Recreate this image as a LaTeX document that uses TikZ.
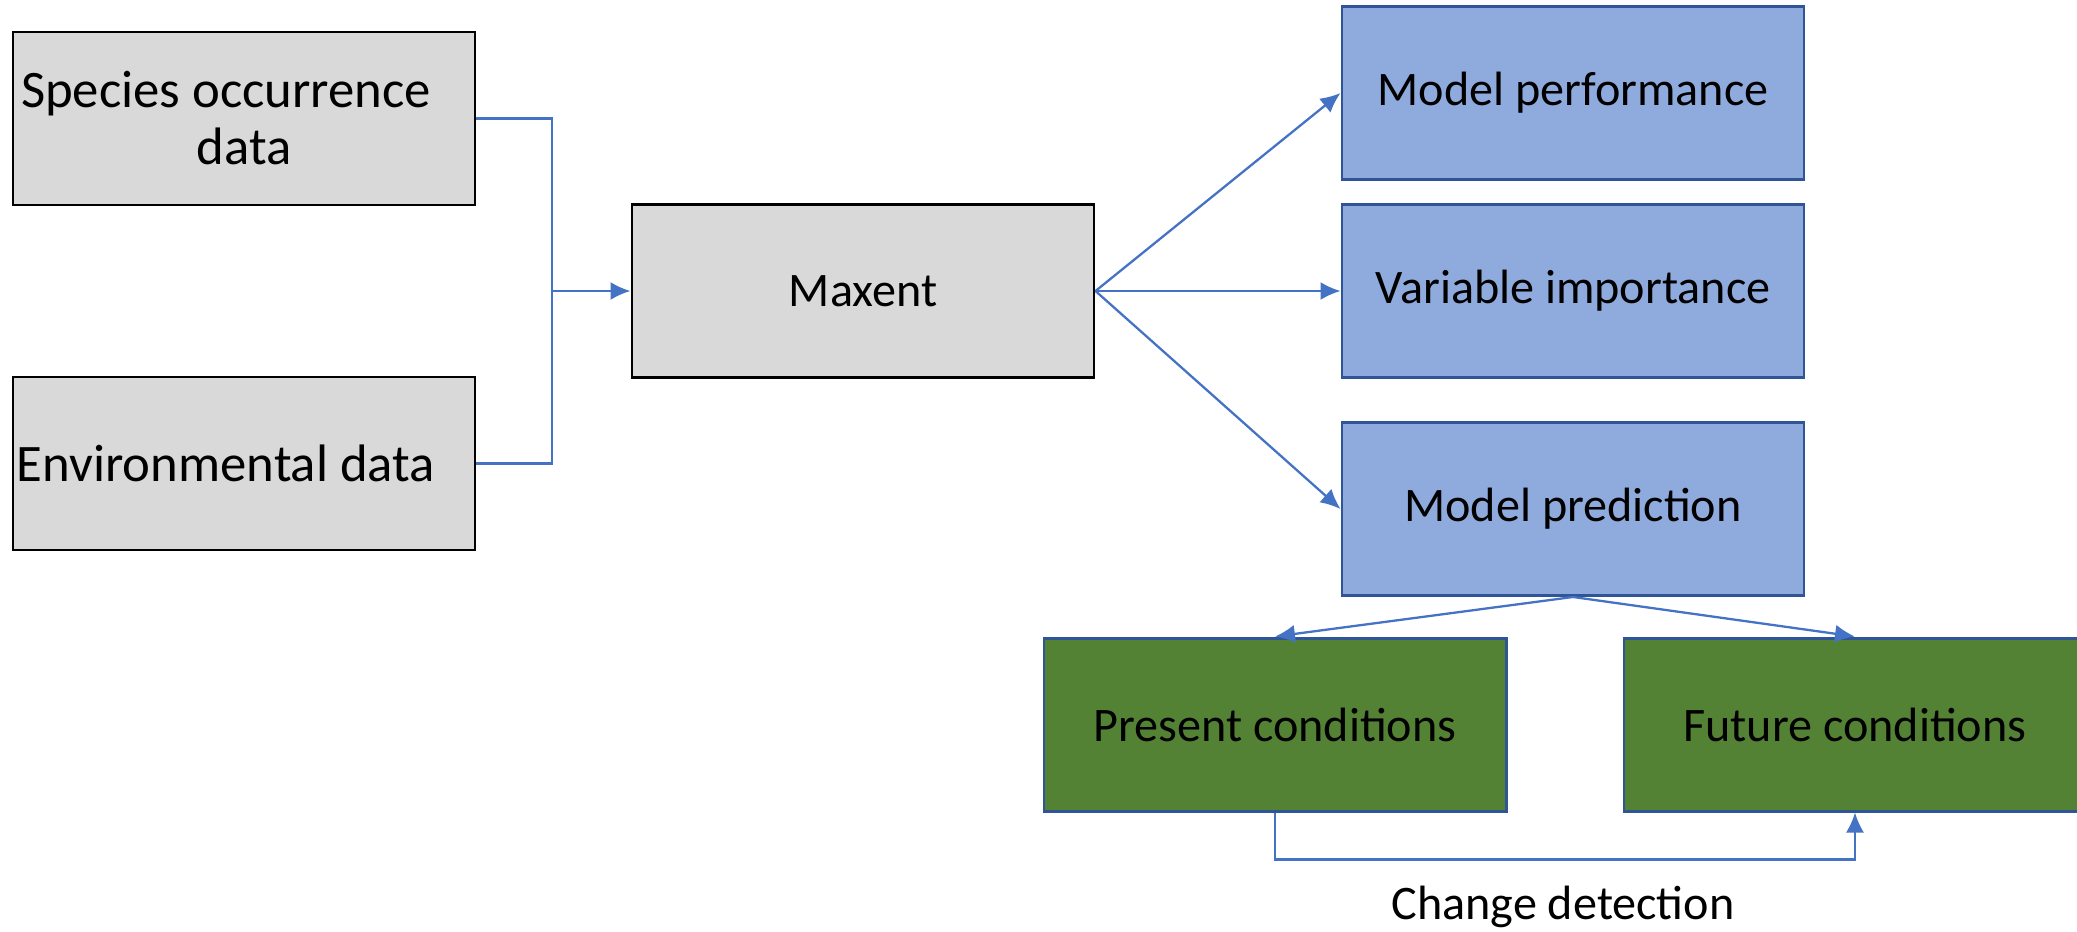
\documentclass[tikz,border=0pt]{standalone}
\usepackage{fontspec}
\setmainfont{Carlito}
\usepackage{xcolor}
\usetikzlibrary{arrows.meta,positioning,calc}

\definecolor{ingray}{HTML}{D9D9D9}
\definecolor{outblue}{HTML}{8FAADC}
\definecolor{mapgreen}{HTML}{548235}
\definecolor{edgeblue}{HTML}{2F5597}
\definecolor{linkblue}{HTML}{4472C4}

% pad a line on the right so it sits a little left of centre
\newcommand{\padr}{\hspace*{0.36cm}}

\begin{document}
\begin{tikzpicture}[
  >={Latex[length=2mm,width=1.8mm]},
  box/.style={draw, minimum width=4.62cm, minimum height=1.73cm, line width=0.85pt, align=center, inner sep=0pt, font=\fontsize{13.7}{16.2}\selectfont},
  inbox/.style={box, fill=ingray, draw=black},
  srcbox/.style={inbox, font=\fontsize{15}{16.2}\selectfont},
  outbox/.style={box, fill=outblue, draw=edgeblue},
  mapbox/.style={box, fill=mapgreen, draw=edgeblue},
  arr/.style={->, line width=0.65pt, linkblue},
  link/.style={-, line width=0.65pt, linkblue},
]
\useasboundingbox (0,0) rectangle (20.77,-9.32);

%------------------- Inputs -------------------
\node (species) [srcbox] at (2.44,-1.185) {Species occurrence\padr\\data};
\node (envdata) [srcbox] at (2.44,-4.635) {Environmental data\padr};

%------------------- Model -------------------
\node (maxent) [inbox] at (8.63,-2.91) {Maxent};

%------------------- Outputs -------------------
\node (varimp) [outbox, right=2.45cm of maxent] {Variable importance};
\node (perf) [outbox, above=0.22cm of varimp] {Model performance};
\node (pred) [outbox, below=0.42cm of varimp] {Model prediction};

% prediction maps
\node (present) [mapbox] at (12.75,-7.245) {Present conditions};
\node (future) [mapbox, right=1.15cm of present] {Future conditions};
\node (changelbl) [font=\fontsize{13.7}{16.2}\selectfont] at (15.63,-9.07) {Change detection};

%------------------- Arrows -------------------
\coordinate (join) at (5.52,-2.91);
\draw[link] (species.east) -| (join);                 % species -> junction
\draw[link] (envdata.east) -| (join);                 % environment -> junction
\draw[arr] (join) -- (maxent.west);                   % junction -> maxent
\draw[arr] (maxent.east) -- (perf.west);              % maxent -> performance
\draw[arr] (maxent.east) -- (varimp.west);            % maxent -> importance
\draw[arr] (maxent.east) -- (pred.west);              % maxent -> prediction
\draw[arr] (pred.south) -- (present.north);           % prediction -> present
\draw[arr] (pred.south) -- (future.north);            % prediction -> future
\draw[arr] (present.south) -- ++(0,-0.47) -| (future.south); % change detection
\end{tikzpicture}
\end{document}
